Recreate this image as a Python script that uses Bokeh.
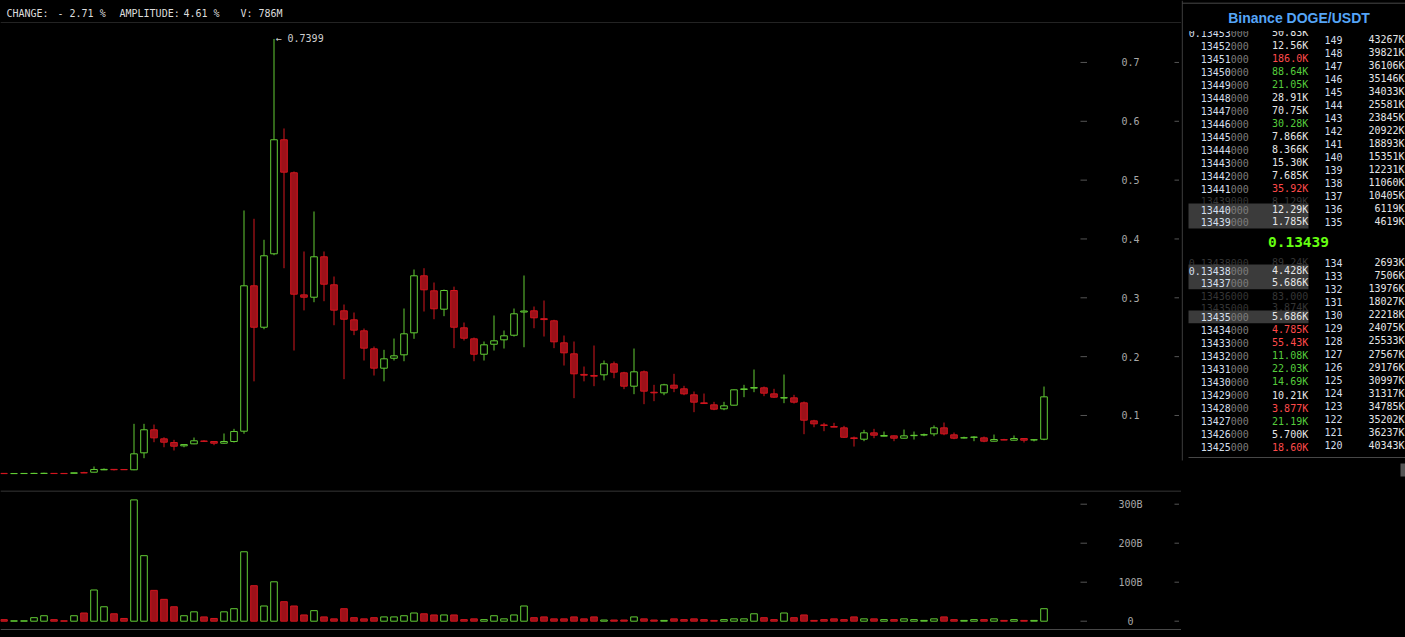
import numpy as np
from bokeh.plotting import figure
from bokeh.models import Range1d, Span, ColumnDataSource, GlobalInlineStyleSheet
from bokeh.layouts import row, column
from bokeh.core.properties import value
from bokeh.embed import file_html
from bokeh.resources import INLINE

# ---------------- data ----------------
opens = [.0016, .0012, .0013, .0014, .0015, .0016, .0015, .0017, .0028, .0036,
         .0076, .0084, .0082, .0077, .0365, .0757, .0603, .0540, .0484, .0518,
         .0566, .0558, .0529, .0558, .0733, .3204, .2500, .3748, .5686, .5125,
         .3050, .3010, .3697, .3221, .2779, .2626, .2439, .2133, .1804, .1973,
         .2031, .2405, .3374, .3119, .2807, .3124, .2490, .2303, .2041, .2211,
         .2286, .2364, .2758, .2779, .2645, .2609, .2235, .2048, .1698, .1680,
         .1691, .1878, .1725, .1498, .1742, .1395, .1385, .1515, .1453, .1351,
         .1215, .1181, .1113, .1175, .1442, .1465, .1470, .1368, .1297, .1300,
         .1215, .0909, .0840, .0812, .0790, .0620, .0597, .0705, .0648, .0654,
         .0614, .0657, .0668, .0688, .0790, .0671, .0618, .0629, .0620, .0563,
         .0589, .0580, .0608, .0584, .0597]
highs = [.0018, .0015, .0016, .0026, .0027, .0017, .0016, .0028, .0043, .0133,
         .0100, .0086, .0084, .0858, .0858, .0846, .0630, .0586, .0510, .0625,
         .0580, .0565, .0694, .0773, .4484, .4343, .3986, .7399, .5878, .5147,
         .3787, .4467, .3787, .3362, .2886, .2750, .2478, .2172, .2116, .2308,
         .2818, .3481, .3503, .3260, .3140, .3190, .2580, .2325, .2257, .2699,
         .2444, .2818, .3379, .2852, .2954, .2626, .2359, .2257, .1832, .2189,
         .1934, .1917, .1742, .2138, .1764, .1521, .1538, .1708, .1504, .1407,
         .1373, .1232, .1232, .1440, .1521, .1781, .1492, .1453, .1696, .1351,
         .1237, .0926, .0875, .0875, .0824, .0642, .0756, .0773, .0727, .0660,
         .0761, .0727, .0693, .0830, .0880, .0710, .0640, .0648, .0642, .0676,
         .0603, .0660, .0612, .0590, .1492]
lows = [.0010, .0011, .0012, .0013, .0014, .0012, .0011, .0016, .0022, .0034,
        .0072, .0065, .0075, .0070, .0274, .0546, .0460, .0405, .0460, .0512,
        .0550, .0495, .0520, .0540, .0690, .1580, .2466, .3724, .3503, .2104,
        .2786, .2925, .2942, .2534, .1617, .2365, .1934, .1679, .1580, .1934,
        .1922, .2303, .2767, .2636, .2688, .2144, .2274, .1922, .1934, .2104,
        .2138, .2342, .2160, .2483, .2342, .2144, .1849, .1294, .1580, .1498,
        .1596, .1633, .1447, .1362, .1192, .1243, .1345, .1396, .1345, .1056,
        .1200, .1090, .1090, .1170, .1311, .1396, .1328, .1300, .1209, .1203,
        .0682, .0800, .0733, .0800, .0620, .0472, .0563, .0614, .0645, .0563,
        .0610, .0591, .0648, .0648, .0665, .0597, .0610, .0563, .0546, .0560,
        .0580, .0578, .0540, .0560, .0580]
closes = [.0012, .0014, .0015, .0016, .0017, .0013, .0012, .0026, .0024, .0082,
          .0084, .0078, .0078, .0348, .0757, .0620, .0546, .0478, .0506, .0570,
          .0560, .0529, .0558, .0727, .3204, .2500, .3714, .5686, .5135, .3061,
          .3010, .3697, .3231, .2790, .2636, .2450, .2144, .1804, .1963, .2014,
          .2388, .3374, .3136, .2813, .3124, .2500, .2313, .2041, .2201, .2269,
          .2354, .2728, .2775, .2660, .2630, .2252, .2065, .1708, .1685, .1668,
          .1878, .1736, .1498, .1742, .1413, .1385, .1521, .1464, .1368, .1226,
          .1203, .1107, .1164, .1436, .1452, .1475, .1379, .1311, .1303, .1226,
          .0920, .0858, .0830, .0802, .0630, .0608, .0705, .0665, .0660, .0614,
          .0654, .0663, .0674, .0790, .0688, .0614, .0622, .0633, .0563, .0591,
          .0583, .0608, .0580, .0588, .1317]
volumes_b = [4, 1, 1, 9, 14, 4, 1, 14, 21, 80, 37, 19, 7, 311, 168, 79, 56, 37, 14, 24,
             11, 7, 24, 32, 178, 91, 39, 101, 50, 39, 16, 27, 11, 6, 32, 9,
             6, 9, 11, 11, 14, 21, 19, 16, 16, 16, 4, 6, 4, 14, 6, 16, 39, 9, 11,
             6, 6, 11, 6, 11, 3, 3, 3, 11, 6, 3, 2, 6, 4, 6, 4,
             2, 4, 6, 6, 19, 9, 4, 21, 9, 16, 2, 4, 6, 4, 11, 6, 6, 4, 4, 6,
             4, 2, 6, 11, 4, 2, 4, 4, 6, 2, 4, 2, 2, 32]

price_ticks = [0.1, 0.2, 0.3, 0.4, 0.5, 0.6, 0.7]
price_tick_labels = ["0.1", "0.2", "0.3", "0.4", "0.5", "0.6", "0.7"]
volume_ticks = [0, 100, 200, 300]
volume_tick_labels = ["0", "100B", "200B", "300B"]

header_texts = ["CHANGE:", "- 2.71 %", "AMPLITUDE:", "4.61 %", "V: 786M"]

book_title = "Binance DOGE/USDT"
mid_price = "0.13439"
ask_prices = ["0.13453", "13452", "13451", "13450", "13449", "13448", "13447",
              "13446", "13445", "13444", "13443", "13442", "13441"]
ask_sizes = ["50.83K", "12.56K", "186.0K", "88.64K", "21.05K", "28.91K", "70.75K",
             "30.28K", "7.866K", "8.366K", "15.30K", "7.685K", "35.92K"]
ask_tones = ["w", "w", "r", "g", "g", "w", "w", "g", "w", "w", "w", "w", "r"]
ask_faded_prices = ["13439"]
ask_faded_sizes = ["8.129K"]
ask_hl_prices = ["13440", "13439"]
ask_hl_sizes = ["12.29K", "1.785K"]
ask_levels = ["149", "148", "147", "146", "145", "144", "143", "142", "141", "140",
              "139", "138", "137", "136", "135"]
ask_level_sizes = ["43267K", "39821K", "36106K", "35146K", "34033K", "25581K", "23845K",
                   "20922K", "18893K", "15351K", "12231K", "11060K", "10405K", "6119K", "4619K"]
bid_faded_prices = ["0.13438", "13436", "13435"]
bid_faded_sizes = ["89.24K", "83.000", "3.874K"]
bid_hl_prices = ["0.13438", "13437", "13435"]
bid_hl_sizes = ["4.428K", "5.686K", "5.686K"]
bid_prices = ["13434", "13433", "13432", "13431", "13430", "13429", "13428",
              "13427", "13426", "13425"]
bid_sizes = ["4.785K", "55.43K", "11.08K", "22.03K", "14.69K", "10.21K", "3.877K",
             "21.19K", "5.700K", "18.60K"]
bid_tones = ["r", "r", "g", "g", "g", "w", "r", "g", "w", "r"]
bid_levels = ["134", "133", "132", "131", "130", "129", "128", "127", "126", "125",
              "124", "123", "122", "121", "120"]
bid_level_sizes = ["2693K", "7506K", "13976K", "18027K", "22218K", "24075K", "25533K",
                   "27567K", "29176K", "30997K", "31317K", "34785K", "35202K", "36237K", "40343K"]
price_suffix = "000"

# ---------------- style ----------------
MONO = value("DejaVu Sans Mono")
UP = "#62cc35"
DOWN_LINE = "#d3161f"
DOWN_FILL = "#9c1119"
BG = "#000000"
AXIS_TEXT = "#a8a8a8"
TICK_COLOR = "#555555"
SEP = "#474747"
TONES = {"w": "#e6e6e6", "r": "#ff4a4a", "g": "#55cc3c"}
PRICE_MAIN = "#d4dfeb"
PRICE_SUFFIX = "#7c7c7c"
FADED = "#353535"

W_LEFT, W_BOOK = 1181, 224
H_HEAD, H_PRICE, H_VOL = 23, 467, 147
X_RANGE = (-0.35, 117.75)
LABEL_X = 112.65
DASH1 = (107.65, 108.3)
DASH2 = (117.05, 117.5)


def base_fig(w, h, xr, yr):
    f = figure(width=w, height=h, x_range=Range1d(*xr), y_range=Range1d(*yr),
               x_axis_type=None, y_axis_type=None, toolbar_location=None,
               output_backend="svg", min_border=0, background_fill_color=BG,
               border_fill_color=BG, outline_line_color=None)
    return f


# ---------------- header ----------------
head = base_fig(W_LEFT, H_HEAD, (0, 1181), (23, 0))
head_x = [6, 57, 119, 183, 240]
head.text(x=head_x, y=[12.8] * len(header_texts), text=header_texts, text_font=MONO,
          text_font_size="10px", text_color="#dcdcdc", text_baseline="middle",
          text_align="left")
head.segment(x0=[0], x1=[1181], y0=[22.5], y1=[22.5], line_color=SEP, line_width=1)

# ---------------- candles ----------------
n = len(opens)
idx = np.arange(n)
o = np.array(opens); c = np.array(closes)
up = c >= o
src = ColumnDataSource(dict(
    x=idx, high=highs, low=lows,
    top=np.maximum(o, c), bottom=np.minimum(o, c),
    line=[UP if u else DOWN_LINE for u in up],
    fill=[BG if u else DOWN_FILL for u in up],
    vol=volumes_b,
))

price = base_fig(W_LEFT, H_PRICE, X_RANGE, (-0.0275, 0.7662))
price.segment(x0="x", y0="low", x1="x", y1="high", line_color="line", line_width=1, source=src)
price.vbar(x="x", width=0.66, top="top", bottom="bottom", fill_color="fill",
           line_color="line", line_width=1, source=src)
imax = int(np.argmax(highs))
price.text(x=[imax + 0.15], y=[highs[imax]], text=[f"\u2190 {highs[imax]:.4f}"],
           text_font=MONO, text_font_size="10px", text_color="#cfcfcf",
           text_baseline="middle", text_align="left")
price.text(x=[LABEL_X] * len(price_ticks), y=price_ticks, text=price_tick_labels,
           text_font=MONO, text_font_size="10px", text_color=AXIS_TEXT,
           text_align="center", text_baseline="middle")
for d in (DASH1, DASH2):
    price.segment(x0=[d[0]] * len(price_ticks), x1=[d[1]] * len(price_ticks),
                  y0=price_ticks, y1=price_ticks, line_color=TICK_COLOR, line_width=1)

# ---------------- volume ----------------
vol = base_fig(W_LEFT, H_VOL, X_RANGE, (-41.8, 335.1))
vol.vbar(x="x", width=0.66, top="vol", bottom=0, fill_color="fill",
         line_color="line", line_width=1, source=src)
vol.text(x=[LABEL_X] * len(volume_ticks), y=volume_ticks, text=volume_tick_labels,
         text_font=MONO, text_font_size="10px", text_color=AXIS_TEXT,
         text_align="center", text_baseline="middle")
for d in (DASH1, DASH2):
    vol.segment(x0=[d[0]] * len(volume_ticks), x1=[d[1]] * len(volume_ticks),
                y0=volume_ticks, y1=volume_ticks, line_color=TICK_COLOR, line_width=1)
vol.add_layout(Span(location=333.8, dimension="width", line_color=SEP, line_width=1))
vol.add_layout(Span(location=-21.3, dimension="width", line_color=SEP, line_width=1))

# ---------------- order book ----------------
book = base_fig(W_BOOK, H_PRICE + H_HEAD + H_VOL, (1181, 1405), (637, 0))
SPLIT_X, SIZE_X, LVL_X, LVL_SIZE_X = 1230.3, 1307.7, 1324, 1404


def rows(prices, sizes, ys, main_col, size_cols, suffix_col):
    k = len(prices)
    book.text(x=[SPLIT_X] * k, y=ys, text=prices, text_font=MONO, text_font_size="10px",
              text_color=main_col, text_align="right", text_baseline="middle")
    book.text(x=[SPLIT_X] * k, y=ys, text=[price_suffix] * k, text_font=MONO,
              text_font_size="10px", text_color=suffix_col, text_align="left",
              text_baseline="middle")
    book.text(x=[SIZE_X] * k, y=ys, text=sizes, text_font=MONO, text_font_size="10px",
              text_color=size_cols, text_align="right", text_baseline="middle")


def levels(lv, lsz, ys):
    k = len(lv)
    book.text(x=[LVL_X] * k, y=ys, text=lv, text_font=MONO, text_font_size="10px",
              text_color=PRICE_MAIN, text_align="left", text_baseline="middle")
    book.text(x=[LVL_SIZE_X] * k, y=ys, text=lsz, text_font=MONO, text_font_size="10px",
              text_color="#e6e6e6", text_align="right", text_baseline="middle")


# faded rows (under highlight boxes)
rows(ask_faded_prices, ask_faded_sizes, [200.5], FADED, FADED, FADED)
rows(bid_faded_prices, bid_faded_sizes, [262.3, 295.3, 307.0], FADED, FADED, FADED)
# highlight boxes
book.quad(left=[1188] * 3, right=[1308] * 3, top=[203, 264, 310], bottom=[228, 288.7, 322.7],
          fill_color="#3b3b3b", line_color=None)
rows(ask_hl_prices, ask_hl_sizes, [209.3, 221.3], PRICE_MAIN, "#e6e6e6", PRICE_SUFFIX)
rows(bid_hl_prices, bid_hl_sizes, [270.0, 282.3, 316.3], PRICE_MAIN, "#e6e6e6", PRICE_SUFFIX)
# asks / bids
rows(ask_prices, ask_sizes, [32.3 + 13.0 * i for i in range(len(ask_prices))],
     PRICE_MAIN, [TONES[t] for t in ask_tones], PRICE_SUFFIX)
rows(bid_prices, bid_sizes, [329.3 + 13.04 * i for i in range(len(bid_prices))],
     PRICE_MAIN, [TONES[t] for t in bid_tones], PRICE_SUFFIX)
levels(ask_levels, ask_level_sizes, [39.3 + 13.0 * i for i in range(len(ask_levels))])
levels(bid_levels, bid_level_sizes, [262.3 + 13.03 * i for i in range(len(bid_levels))])
# mask over the clipped top row, then title
book.quad(left=[1183], right=[1405], top=[3.5], bottom=[30.5], fill_color=BG, line_color=None)
book.text(x=[1298.5], y=[17.5], text=[book_title], text_font=value("Liberation Sans"),
          text_font_size="14px", text_font_style="bold", text_color="#55a5f7",
          text_align="center", text_baseline="middle")
book.text(x=[1298], y=[241.7], text=[mid_price], text_font=MONO, text_font_size="14.5px",
          text_font_style="bold", text_color="#66ff11", text_align="center",
          text_baseline="middle")
# borders
book.segment(x0=[1181.7, 1181.7, 1188], x1=[1181.7, 1405, 1405],
             y0=[0, 2.7, 457], y1=[460, 2.7, 457], line_color=SEP, line_width=1)
book.quad(left=[1400], right=[1405], top=[463], bottom=[476], fill_color="#555555",
          line_color=None)

layout = row(column(head, price, vol), book,
             stylesheets=[GlobalInlineStyleSheet(css="html, body { background-color: #000; }")])

open("out.html", "w").write(file_html(layout, INLINE))
